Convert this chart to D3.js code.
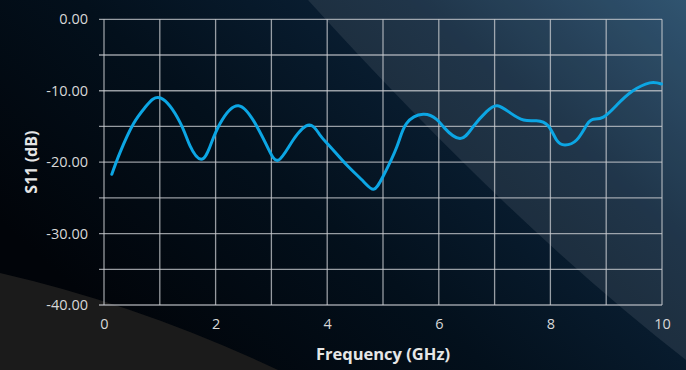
<!DOCTYPE html>
<html><head><meta charset="utf-8">
<script src="https://cdn.jsdelivr.net/npm/d3@7"></script>
<style>html,body{margin:0;padding:0;background:#000;}svg{display:block;}</style>
</head><body>
<svg id="c" width="686" height="370"></svg>
<script>
// Data
const freqGHz = [0.14,0.29,0.53,0.75,1.02,1.36,1.54,1.74,1.90,2.08,2.41,2.74,2.95,3.13,3.39,3.68,3.87,4.05,4.35,4.65,4.83,5.0,5.25,5.42,5.72,5.96,6.10,6.38,6.62,6.86,7.05,7.28,7.52,7.75,7.96,8.11,8.26,8.47,8.65,8.77,8.95,9.19,9.46,9.78,9.99];
const s11dB   = [-21.7,-18.6,-14.6,-12.2,-11.05,-14.4,-17.7,-19.6,-17.8,-14.6,-12.1,-15.0,-18.2,-19.7,-16.9,-14.8,-16.2,-17.8,-20.4,-22.7,-23.8,-22.0,-17.8,-14.6,-13.3,-14.0,-15.2,-16.7,-15.0,-12.9,-12.1,-13.1,-14.1,-14.2,-14.9,-16.9,-17.6,-16.9,-14.8,-14.0,-13.7,-12.0,-10.1,-8.9,-9.06];
const xTicks = [0,2,4,6,8,10];
const xGrid = [0,1,2,3,4,5,6,7,8,9,10];
const yTicks = [0,-10,-20,-30,-40];
const yGrid = [0,-5,-10,-15,-20,-25,-30,-35,-40];
const xTitle = "Frequency (GHz)";
const yTitle = "S11 (dB)";

const W = 686, H = 370;
const m = {left:104, right:24, top:19.3, bottom:65};
const svg = d3.select("#c");
const defs = svg.append("defs");
const bg = defs.append("linearGradient").attr("id","bg")
  .attr("x1","0").attr("y1","0.6").attr("x2","1").attr("y2","0");
bg.append("stop").attr("offset","0").attr("stop-color","#010409");
bg.append("stop").attr("offset","0.35").attr("stop-color","#03101c");
bg.append("stop").attr("offset","0.7").attr("stop-color","#0b2238");
bg.append("stop").attr("offset","1").attr("stop-color","#1d4463");
svg.append("rect").attr("width",W).attr("height",H).attr("fill","url(#bg)");
// light diagonal overlay
svg.append("path").attr("d","M308,0 Q511,224 686,360 L686,0 Z")
  .attr("fill","#ffffff").attr("fill-opacity",0.085);
// bottom-left grey swoosh
svg.append("path").attr("d","M0,273 Q140,305 278,370 L0,370 Z")
  .attr("fill","#1b1b1b");

const x = d3.scaleLinear().domain([0,10]).range([m.left, W-m.right]);
const y = d3.scaleLinear().domain([-40,0]).range([H-m.bottom, m.top]);

const gridCol = "#c9ccd0";
const g = svg.append("g");
g.selectAll("line.h").data(yGrid).join("line").attr("class","h")
  .attr("x1",m.left-5).attr("x2",x(10)).attr("y1",d=>y(d)).attr("y2",d=>y(d))
  .attr("stroke",gridCol).attr("stroke-opacity",0.75).attr("stroke-width",1.3);
g.selectAll("line.v").data(xGrid).join("line").attr("class","v")
  .attr("y1",y(0)).attr("y2",y(-40)).attr("x1",d=>x(d)).attr("x2",d=>x(d))
  .attr("stroke",gridCol).attr("stroke-opacity",0.75).attr("stroke-width",1.3);

const fmtY = d => d.toFixed(2);
const yAxis = svg.append("g").attr("transform",`translate(${m.left},0)`)
  .call(d3.axisLeft(y).tickValues(yTicks).tickFormat(fmtY).tickSize(0).tickPadding(16));
const xAxis = svg.append("g").attr("transform",`translate(0,${y(-40)})`)
  .call(d3.axisBottom(x).tickValues(xTicks).tickFormat(d=>String(d)).tickSize(0).tickPadding(14));
[yAxis,xAxis].forEach(a=>{
  a.select(".domain").remove();
  a.selectAll("text").attr("fill","#d8d8d8").style("font-family","'Open Sans', sans-serif").style("font-size","14.5px");
});

svg.append("text").attr("x",(x(0)+x(10))/2).attr("y",360).attr("text-anchor","middle")
  .attr("fill","#e6e6e6").style("font-family","'Open Sans', sans-serif").style("font-weight","bold").style("font-size","16.5px")
  .text(xTitle);
svg.append("text").attr("transform",`translate(37,${(y(0)+y(-40))/2}) rotate(-90)`).attr("text-anchor","middle")
  .attr("fill","#e6e6e6").style("font-family","'Open Sans', sans-serif").style("font-weight","bold").style("font-size","16px")
  .text(yTitle);

const pts = freqGHz.map((f,i)=>[f,s11dB[i]]);
svg.append("path").datum(pts)
  .attr("d", d3.line().x(d=>x(d[0])).y(d=>y(d[1])).curve(d3.curveNatural))
  .attr("fill","none").attr("stroke","#0ca6e4").attr("stroke-width",3).attr("stroke-linecap","round");
</script>
</body></html>
